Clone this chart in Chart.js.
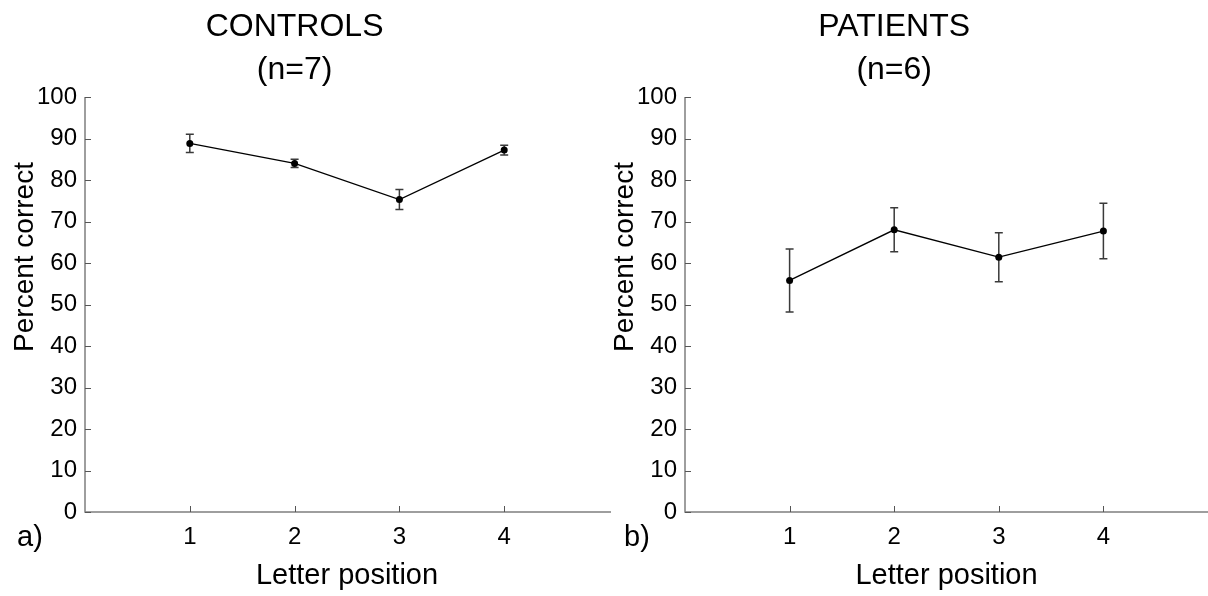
<!DOCTYPE html>
<html>
<head>
<meta charset="utf-8">
<script src="https://cdn.jsdelivr.net/npm/chart.js@4"></script>
<style>
  html, body { margin: 0; padding: 0; background: #fff; overflow: hidden; width: 1208px; height: 596px; }
  #left { position: absolute; left: 0; top: 0; }
  #right { position: absolute; left: 600px; top: 0; }
</style>
</head>
<body>
<canvas id="left" width="615" height="596"></canvas>
<canvas id="right" width="612" height="596"></canvas>
<script>
// data
const positions = [1, 2, 3, 4];
const yTicks = [0, 10, 20, 30, 40, 50, 60, 70, 80, 90, 100];
const controlsMean = [88.8, 84.0, 75.3, 87.2];
const controlsErr  = [2.2, 1.0, 2.4, 1.2];
const patientsMean = [55.8, 68.0, 61.4, 67.7];
const patientsErr  = [7.6, 5.3, 5.9, 6.7];

const FONT = '"Liberation Sans", Arial, sans-serif';
const AXIS = '#7f7f7f';

// error bars, inward ticks, axis lines and texts
const decor = {
  id: 'decor',
  beforeDatasetsDraw(chart) {
    const ctx = chart.ctx, xs = chart.scales.x, ys = chart.scales.y;
    const ds = chart.data.datasets[0];
    ctx.save();
    ctx.strokeStyle = '#3a3a3a';
    ctx.lineWidth = 1.5;
    ds.data.forEach((p, i) => {
      const e = ds.err[i];
      const x = xs.getPixelForValue(p.x);
      const y1 = ys.getPixelForValue(p.y + e), y2 = ys.getPixelForValue(p.y - e);
      ctx.beginPath();
      ctx.moveTo(x, y1); ctx.lineTo(x, y2);
      ctx.moveTo(x - 4, y1); ctx.lineTo(x + 4, y1);
      ctx.moveTo(x - 4, y2); ctx.lineTo(x + 4, y2);
      ctx.stroke();
    });
    ctx.restore();
  },
  afterDraw(chart) {
    const ctx = chart.ctx, a = chart.chartArea, xs = chart.scales.x, ys = chart.scales.y;
    const o = chart.options.plugins.decor;
    ctx.save();
    // axes
    ctx.strokeStyle = AXIS;
    ctx.lineWidth = 1.5;
    ctx.beginPath();
    ctx.moveTo(a.left, a.top); ctx.lineTo(a.left, a.bottom); ctx.lineTo(a.right + 2, a.bottom);
    ctx.stroke();
    ctx.lineWidth = 1;
    ctx.strokeStyle = '#555';
    ctx.beginPath();
    ys.ticks.forEach(t => {
      const y = Math.round(ys.getPixelForValue(t.value)) + 0.5;
      ctx.moveTo(a.left, y); ctx.lineTo(a.left + 6, y);
    });
    xs.ticks.forEach(t => {
      const x = Math.round(xs.getPixelForValue(t.value)) + 0.5;
      ctx.moveTo(x, a.bottom); ctx.lineTo(x, a.bottom - 6);
    });
    ctx.stroke();
    // titles
    ctx.fillStyle = '#000';
    ctx.textAlign = 'center';
    ctx.textBaseline = 'alphabetic';
    ctx.font = '32px ' + FONT;
    const tx = xs.getPixelForValue(2);
    ctx.fillText(o.title[0], tx, 36);
    ctx.fillText(o.title[1], tx, 79);
    ctx.font = '29px ' + FONT;
    ctx.fillText('Letter position', (a.left + a.right) / 2, 584);
    ctx.textAlign = 'left';
    ctx.fillText(o.panel, o.panelX, 546);
    ctx.translate(33, 257);
    ctx.rotate(-Math.PI / 2);
    ctx.textAlign = 'center';
    ctx.font = '28px ' + FONT;
    ctx.fillText('Percent correct', 0, 0);
    ctx.restore();
  }
};

function makeChart(id, means, errs, title, panel, panelX, padRight) {
  return new Chart(document.getElementById(id), {
    type: 'line',
    data: {
      datasets: [{
        data: positions.map((p, i) => ({ x: p, y: means[i] })),
        err: errs,
        borderColor: '#000',
        borderWidth: 1.3,
        backgroundColor: '#000',
        pointRadius: 3.5,
        pointBackgroundColor: '#000',
        pointBorderWidth: 0,
        tension: 0
      }]
    },
    options: {
      responsive: false,
      animation: false,
      devicePixelRatio: 1,
      layout: { padding: { left: 0, top: 97, right: padRight, bottom: 0 } },
      plugins: {
        legend: { display: false },
        tooltip: { enabled: false },
        decor: { title, panel, panelX }
      },
      scales: {
        x: {
          type: 'linear', min: 0, max: 5,
          afterBuildTicks: s => { s.ticks = positions.map(v => ({ value: v })); },
          afterFit: s => { s.height = 84; },
          grid: { display: false, drawTicks: false },
          border: { display: false },
          ticks: { color: '#000', font: { family: FONT, size: 24 }, padding: 11, maxRotation: 0 }
        },
        y: {
          min: 0, max: 100,
          afterBuildTicks: s => { s.ticks = yTicks.map(v => ({ value: v })); },
          afterFit: s => { s.width = 85; },
          grid: { display: false, drawTicks: false },
          border: { display: false },
          ticks: { color: '#000', font: { family: FONT, size: 24 }, padding: 8 }
        }
      }
    },
    plugins: [decor]
  });
}

makeChart('left', controlsMean, controlsErr, ['CONTROLS', '(n=7)'], 'a)', 17, 6);
makeChart('right', patientsMean, patientsErr, ['PATIENTS', '(n=6)'], 'b)', 24, 2);
</script>
</body>
</html>
